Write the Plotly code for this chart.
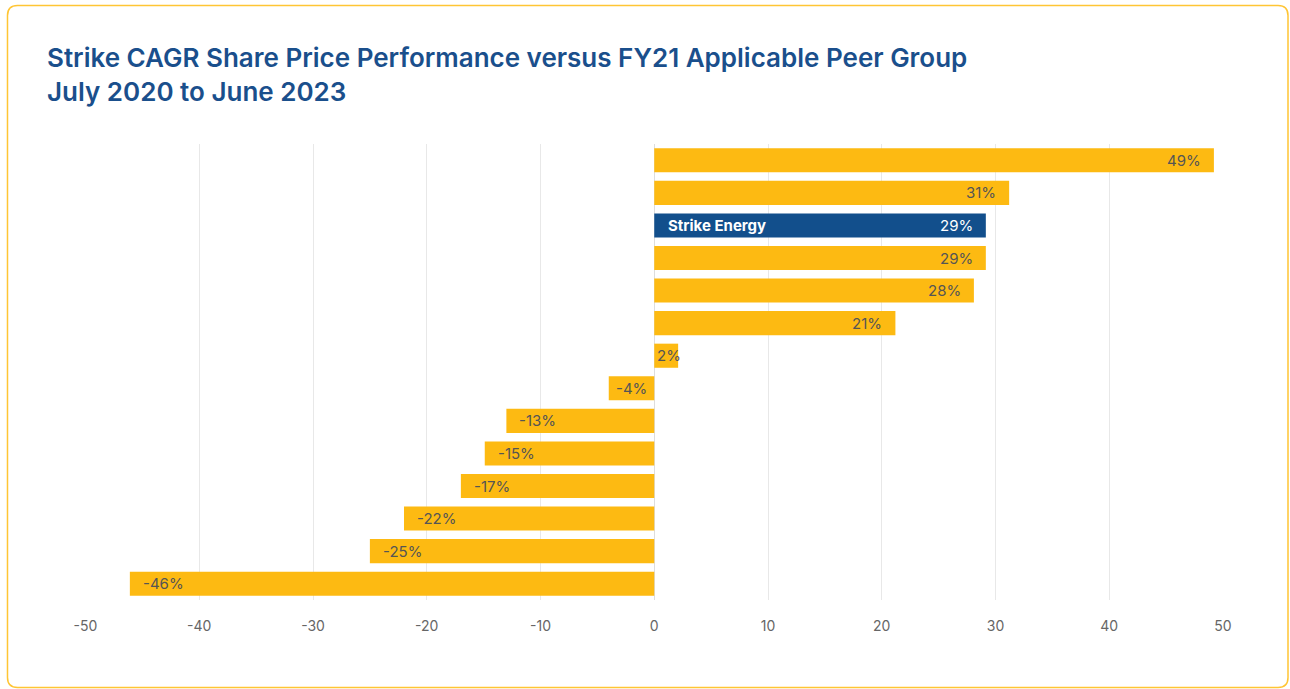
import plotly.graph_objects as go

# ---- data ----
companies = ["Peer 1", "Peer 2", "Strike Energy", "Peer 3", "Peer 4", "Peer 5", "Peer 6",
             "Peer 7", "Peer 8", "Peer 9", "Peer 10", "Peer 11", "Peer 12", "Peer 13"]
cagr = [49.2, 31.2, 29.15, 29.15, 28.1, 21.2, 2.1, -4.0, -13.0, -14.9, -17.0, -22.0, -25.0, -46.1]
highlight = "Strike Energy"
x_ticks = [-50, -40, -30, -20, -10, 0, 10, 20, 30, 40, 50]

W, H = 1290, 689
GOLD = "#FDBA12"
BLUE = "#124F8C"
TITLE_BLUE = "#1A4F8C"
LABEL_GREY = "#555555"

# plot area in pixels
x0_px, x1_px = 85.5, 1223
y0_px, y1_px = 144, 600

ypos = list(range(len(companies)))
colors = [BLUE if c == highlight else GOLD for c in companies]

fig = go.Figure()
fig.add_trace(go.Bar(
    x=cagr, y=ypos, orientation="h",
    marker=dict(color=colors, line=dict(width=0)),
    hoverinfo="skip",
))

annotations = []
px_per_unit = (x1_px - x0_px) / 100.0
for i, (name, v) in enumerate(zip(companies, cagr)):
    txt = f"{round(v)}%"
    col = "white" if name == highlight else LABEL_GREY
    width_px = abs(v) * px_per_unit
    if width_px > 60:
        if v >= 0:
            annotations.append(dict(x=v, y=i, xref="x", yref="y", text=txt, showarrow=False,
                                    xanchor="right", xshift=-11, font=dict(size=15, color=col)))
        else:
            annotations.append(dict(x=v, y=i, xref="x", yref="y", text=txt, showarrow=False,
                                    xanchor="left", xshift=11, font=dict(size=15, color=col)))
    else:
        annotations.append(dict(x=v / 2, y=i, xref="x", yref="y", text=txt, showarrow=False,
                                xanchor="center", xshift=3 if v > 0 else 0,
                                font=dict(size=15, color=col)))
    if name == highlight:
        annotations.append(dict(x=0, y=i, xref="x", yref="y", text="<b>" + name + "</b>",
                                showarrow=False, xanchor="left", xshift=12,
                                font=dict(size=15, color="white")))

annotations.append(dict(
    x=45 / W, y=1 - 40 / H, xref="paper", yref="paper", xanchor="left", yanchor="top",
    align="left", showarrow=False,
    text="Strike CAGR Share Price Performance versus FY21 Applicable Peer Group<br>July 2020 to June 2023",
    font=dict(family="Inter", size=26, color=TITLE_BLUE, weight=600),
))

# rounded border
def px(x, y):
    return x / W, 1 - y / H

bl, bt, br, bb, r = 7.5, 5.5, 1288, 687.5, 10
def P(x, y):
    a, b = px(x, y)
    return f"{a:.5f},{b:.5f}"
path = (f"M {P(bl + r, bt)} L {P(br - r, bt)} Q {P(br, bt)} {P(br, bt + r)} "
        f"L {P(br, bb - r)} Q {P(br, bb)} {P(br - r, bb)} "
        f"L {P(bl + r, bb)} Q {P(bl, bb)} {P(bl, bb - r)} "
        f"L {P(bl, bt + r)} Q {P(bl, bt)} {P(bl + r, bt)} Z")

fig.update_layout(
    width=W, height=H,
    margin=dict(l=0, r=0, t=0, b=0, autoexpand=False),
    paper_bgcolor="white", plot_bgcolor="white",
    showlegend=False,
    bargap=0.26,
    font=dict(family="Inter", color=LABEL_GREY),
    annotations=annotations,
    shapes=[dict(type="path", path=path, xref="paper", yref="paper",
                 line=dict(color="#FFC534", width=1.5), fillcolor="rgba(0,0,0,0)", layer="below")],
    xaxis=dict(
        domain=[x0_px / W, x1_px / W], automargin=False,
        range=[-50, 50], tickvals=x_ticks, ticktext=[str(t) for t in x_ticks],
        showgrid=True, gridcolor="#E8E8E8", gridwidth=1,
        zeroline=True, zerolinecolor="#DDDDDD", zerolinewidth=1,
        showline=False, ticks="", ticklabelstandoff=16,
        tickfont=dict(size=14, color="#666666", family="Inter"),
        fixedrange=True,
    ),
    yaxis=dict(
        domain=[1 - y1_px / H, 1 - y0_px / H], automargin=False,
        range=[len(companies) - 0.5, -0.5],
        showticklabels=False, showgrid=False, zeroline=False, showline=False,
        fixedrange=True,
    ),
)

fig.write_html(
    "out.html",
    config={"displayModeBar": False},
    post_script="document.body.style.margin='0';document.body.style.overflow='hidden';",
)
